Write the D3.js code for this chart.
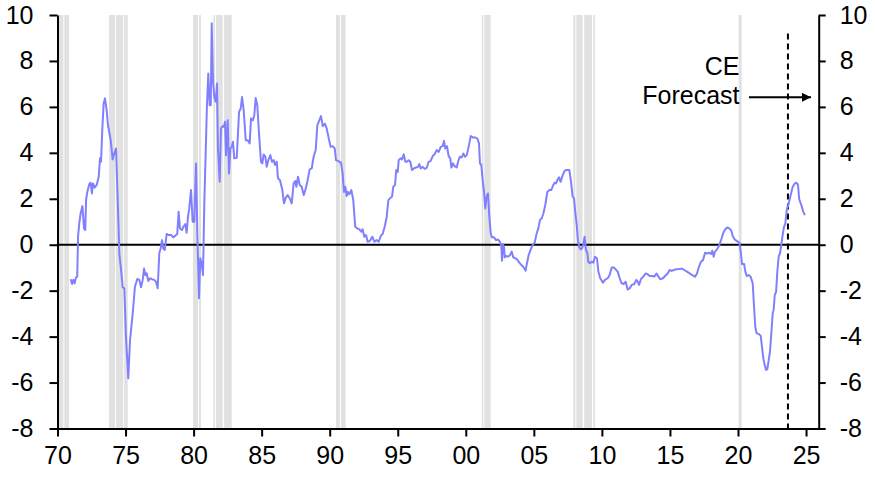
<!DOCTYPE html>
<html>
<head>
<meta charset="utf-8">
<script src="https://cdn.jsdelivr.net/npm/d3@7"></script>
<style>
  body { margin: 0; background: #fff; }
  svg text { font-family: "Liberation Sans", Arial, sans-serif; fill: #000; }
</style>
</head>
<body>
<script>
// series: year (decimal) and value
var dates = [
1970.97,1971.07,1971.16,1971.26,1971.36,1971.45,1971.51,1971.6,1971.7,1971.83,1971.95,1972.04,1972.1,1972.19,1972.34,1972.44,1972.53,1972.61,1972.73,1972.88,
1973.03,1973.12,1973.2,1973.29,1973.39,1973.49,1973.61,1973.71,1973.91,1974.05,1974.17,1974.3,1974.4,1974.5,1974.54,1974.67,1974.79,1974.91,1975.03,1975.2,
1975.33,1975.53,1975.69,1975.86,1976.01,1976.14,1976.26,1976.36,1976.45,1976.55,1976.67,1976.8,1976.94,1977.11,1977.24,1977.36,1977.48,1977.58,1977.68,1977.77,
1977.88,1978.02,1978.17,1978.36,1978.51,1978.71,1978.8,1978.9,1979.0,1979.15,1979.24,1979.39,1979.49,1979.59,1979.68,1979.81,1979.93,1980.05,1980.18,1980.27,
1980.4,1980.49,1980.59,1980.69,1980.79,1980.89,1980.98,1981.08,1981.18,1981.26,1981.33,1981.43,1981.52,1981.62,1981.72,1981.79,1981.92,1982.01,1982.14,1982.23,
1982.31,1982.38,1982.51,1982.6,1982.7,1982.8,1982.89,1982.99,1983.17,1983.34,1983.46,1983.56,1983.68,1983.83,1983.97,1984.12,1984.22,1984.36,1984.46,1984.56,
1984.68,1984.8,1984.95,1985.05,1985.15,1985.27,1985.37,1985.49,1985.64,1985.76,1985.89,1985.98,1986.11,1986.2,1986.35,1986.52,1986.64,1986.77,1986.91,1987.06,
1987.21,1987.35,1987.47,1987.55,1987.67,1987.8,1987.94,1988.09,1988.24,1988.38,1988.53,1988.68,1988.82,1988.97,1989.09,1989.24,1989.36,
1989.49,1989.65,1989.78,1989.93,1990.07,1990.22,1990.37,1990.46,1990.63,1990.83,1990.95,1991.05,1991.15,1991.25,1991.34,1991.44,1991.59,1991.73,1991.88,1992.03,
1992.18,1992.32,1992.42,1992.54,1992.67,1992.79,1992.96,1993.13,1993.28,1993.45,1993.6,1993.75,1993.89,1994.04,1994.19,1994.31,1994.43,1994.58,1994.67,1994.8,
1994.89,1995.0,1995.07,1995.22,1995.31,1995.44,1995.56,1995.66,1995.8,1995.92,1996.05,1996.19,1996.34,1996.49,1996.58,1996.69,1996.83,1996.98,1997.13,1997.27,
1997.42,1997.57,1997.71,1997.86,1998.01,1998.16,1998.3,1998.4,1998.49,1998.62,1998.74,1998.86,1998.94,1999.06,1999.18,1999.33,1999.45,
1999.57,1999.7,1999.82,1999.94,2000.07,2000.21,2000.36,2000.51,2000.68,2000.85,2000.97,2001.04,2001.14,2001.24,2001.34,2001.43,2001.53,2001.63,2001.73,2001.83,
2001.92,2002.07,2002.22,2002.36,2002.51,2002.61,2002.66,2002.73,2002.81,2002.86,2002.95,2003.1,2003.25,2003.37,2003.49,2003.64,2003.78,2003.93,2004.08,2004.22,
2004.4,2004.47,2004.62,2004.77,2004.91,2005.06,2005.21,2005.33,2005.45,2005.58,2005.7,2005.84,2005.99,2006.14,2006.28,2006.43,2006.53,2006.63,2006.75,2006.85,
2006.97,2007.12,2007.27,2007.41,2007.61,2007.73,2007.85,2007.95,2008.05,2008.15,2008.24,2008.34,2008.44,2008.54,2008.63,2008.73,2008.83,2008.93,2009.0,2009.12,
2009.25,2009.37,
2009.49,2009.64,2009.74,2009.88,2010.08,2010.23,2010.43,2010.57,2010.72,2010.87,2011.01,2011.16,2011.31,2011.45,2011.6,2011.75,2011.89,2012.04,2012.19,2012.38,
2012.53,2012.63,2012.73,2012.87,2013.04,2013.22,2013.37,2013.53,2013.7,2013.85,2014.02,2014.15,2014.29,2014.49,2014.64,2014.83,2014.98,2015.13,2015.28,2015.47,
2015.66,2015.86,2016.05,2016.25,2016.45,2016.64,2016.84,2016.99,2017.13,2017.28,2017.43,2017.58,2017.72,2017.87,2018.02,2018.11,2018.21,2018.31,2018.46,2018.6,
2018.8,2018.92,2019.07,2019.21,2019.36,2019.51,2019.61,2019.76,2019.9,2020.1,2020.2,2020.3,2020.45,2020.54,2020.64,2020.79,2020.93,2021.08,2021.18,2021.27,
2021.37,2021.52,2021.67,2021.76,2021.86,2021.96,2022.06,2022.15,2022.26,2022.35,2022.45,2022.55,2022.62,2022.7,2022.8,2022.89,2022.99,2023.09,2023.19,2023.28,
2023.38,2023.48,2023.58,2023.73,2023.87,2024.02,2024.17,2024.31,2024.41,2024.5,2024.65,2024.8,2024.92
];
var values = [
-1.50,-1.71,-1.53,-1.68,-1.42,-1.39,0.35,0.93,1.37,1.68,0.71,0.64,1.94,2.30,2.64,2.70,2.23,2.67,2.49,2.60,
2.96,3.76,3.61,4.99,6.15,6.37,5.86,5.20,4.55,3.71,3.97,4.19,2.38,0.50,-0.37,-1.10,-1.85,-1.90,-4.00,-5.81,
-4.14,-2.98,-1.83,-1.49,-1.53,-1.85,-1.53,-1.03,-1.32,-1.24,-1.58,-1.46,-1.50,-1.53,-1.61,-1.90,-0.37,-0.16,0.20,-0.16,
-0.23,0.47,0.42,0.42,0.32,0.42,0.47,1.43,0.71,0.64,0.78,0.90,0.52,1.22,1.58,2.38,1.00,1.00,3.54,0.64,
-2.33,-0.59,-0.81,-1.32,1.87,4.04,6.07,7.45,6.07,6.07,9.64,7.09,6.43,6.22,7.02,4.19,2.74,5.06,5.16,5.13,
5.35,3.90,5.42,3.10,4.19,4.26,4.48,3.76,3.78,5.78,5.93,6.43,5.86,4.55,4.55,4.41,5.50,5.42,5.64,6.39,
6.07,4.91,3.61,3.54,3.93,3.83,3.39,3.68,3.90,3.61,3.68,3.47,3.61,2.89,2.81,2.38,1.80,2.04,2.16,2.02,
1.80,2.67,2.77,2.52,2.96,2.60,2.52,2.16,2.45,2.81,3.28,3.32,3.83,4.12,5.20,5.42,5.60,
5.16,5.27,5.06,4.63,4.26,4.29,4.19,3.68,3.64,3.57,3.10,2.30,2.52,2.12,2.30,2.20,2.38,1.94,0.78,0.71,
0.67,0.57,0.67,0.35,0.42,0.13,0.17,0.35,0.13,0.20,0.13,0.38,0.47,0.78,1.22,1.94,2.02,2.09,2.52,2.60,
3.25,3.17,3.68,3.76,3.71,3.94,3.61,3.61,3.68,3.61,3.25,3.32,3.36,3.39,3.51,3.32,3.39,3.30,3.35,3.61,
3.65,3.86,3.94,4.12,4.04,4.26,4.29,4.52,4.19,4.29,3.86,3.76,3.36,3.54,3.42,3.36,3.65,
3.83,3.80,3.97,3.83,3.90,4.26,4.73,4.67,4.67,4.62,4.41,3.54,3.47,2.81,2.30,1.58,2.09,2.23,1.22,0.50,
0.32,0.32,0.20,0.23,0.13,-0.06,-0.70,0.03,-0.09,-0.55,-0.49,-0.52,-0.45,-0.30,-0.55,-0.59,-0.64,-0.78,-0.88,-0.96,
-1.13,-0.88,-0.45,-0.20,-0.01,0.09,0.50,0.71,1.07,1.15,1.36,1.73,2.30,2.38,2.38,2.60,2.70,2.67,2.84,2.93,
2.74,3.03,3.22,3.25,3.25,2.74,2.09,2.02,1.36,0.86,0.20,-0.12,-0.20,-0.16,-0.01,0.35,-0.23,-0.35,-0.74,-0.81,
-0.74,-0.78,
-0.52,-0.59,-1.17,-1.46,-1.65,-1.53,-1.46,-1.32,-0.99,-0.99,-1.07,-1.17,-1.46,-1.68,-1.71,-1.61,-1.95,-1.90,-1.75,-1.71,
-1.53,-1.61,-1.75,-1.50,-1.39,-1.25,-1.29,-1.36,-1.36,-1.39,-1.25,-1.39,-1.50,-1.46,-1.36,-1.25,-1.10,-1.14,-1.10,-1.07,
-1.06,-1.04,-1.10,-1.17,-1.25,-1.32,-1.39,-1.25,-0.96,-0.74,-0.67,-0.35,-0.38,-0.35,-0.40,-0.26,-0.52,-0.30,-0.20,-0.06,
0.28,0.52,0.67,0.75,0.71,0.61,0.38,0.23,0.17,0.09,-0.30,-0.84,-0.84,-1.17,-1.36,-1.32,-1.39,-1.68,-2.70,-3.57,
-3.86,-3.88,-3.97,-4.43,-4.94,-5.23,-5.45,-5.42,-5.01,-4.65,-3.86,-2.98,-2.84,-2.19,-2.05,-1.17,-0.52,-0.37,0.03,0.42,
0.78,0.93,1.51,1.80,2.16,2.52,2.67,2.70,2.60,1.97,1.73,1.43,1.29
];

// recession shading (start, end), as drawn in separate strips
var recStart = [1970.0, 1970.5, 1973.78, 1974.29, 1974.9, 1979.96, 1980.4, 1981.45, 1981.65, 1982.24,
                1990.46, 1990.83, 2001.17, 2001.36, 2007.9, 2008.12, 2008.7, 2009.37, 2020.05];
var recEnd   = [1970.43, 1970.85, 1974.22, 1974.83, 1975.16, 1980.33, 1980.54, 1981.57, 1982.14, 1982.8,
                1990.75, 1991.17, 2001.29, 2001.83, 2008.05, 2008.58, 2009.27, 2009.5, 2020.27];

var xTicks = [1970, 1975, 1980, 1985, 1990, 1995, 2000, 2005, 2010, 2015, 2020, 2025];
var yTicks = [-8, -6, -4, -2, 0, 2, 4, 6, 8, 10];
var forecastStart = 2023.67;

var width = 875, height = 479;
var svg = d3.select("body").append("svg")
    .attr("width", width)
    .attr("height", height);

var x = d3.scaleLinear().domain([1970, 2025.93]).range([57.5, 818.7]);
var y = d3.scaleLinear().domain([-8, 10]).range([428.5, 15]);

// recession bands
svg.selectAll(".rec")
  .data(recStart)
  .enter()
  .append("rect")
  .attr("class", "rec")
  .attr("x", function(d) { return x(d); })
  .attr("y", y(10))
  .attr("width", function(d, i) { return x(recEnd[i]) - x(d); })
  .attr("height", y(-8) - y(10))
  .attr("fill", "#e1e1e1");

// zero line
svg.append("line")
  .attr("x1", x(1970)).attr("x2", x(2025.93))
  .attr("y1", y(0)).attr("y2", y(0))
  .attr("stroke", "#000")
  .attr("stroke-width", 2);

// forecast divider
svg.append("line")
  .attr("x1", x(forecastStart)).attr("x2", x(forecastStart))
  .attr("y1", y(9.2)).attr("y2", y(-8))
  .attr("stroke", "#000")
  .attr("stroke-width", 2)
  .attr("stroke-dasharray", "6,4");

var line = d3.line()
  .x(function(d) { return x(d); })
  .y(function(d, i) { return y(values[i]); });

svg.append("path")
  .datum(dates)
  .attr("d", line)
  .attr("fill", "none")
  .attr("stroke", "#8080ff")
  .attr("stroke-width", 2)
  .attr("stroke-linejoin", "round");

// axes (plain hyphen for negatives, like the original)
var plain = function(d) { return String(d); };
var yLeft = d3.axisLeft(y).tickValues(yTicks).tickSize(8).tickSizeOuter(0).tickPadding(16).tickFormat(plain);
var yRight = d3.axisRight(y).tickValues(yTicks).tickSize(7).tickSizeOuter(0).tickPadding(14).tickFormat(plain);
var xAxis = d3.axisBottom(x).tickValues(xTicks).tickSize(8).tickSizeOuter(0).tickPadding(10)
  .tickFormat(function(d) { return d3.format("02d")(d % 100); });

svg.append("g")
  .attr("transform", "translate(" + x(1970) + ",0)")
  .call(yLeft);
svg.append("g")
  .attr("transform", "translate(" + x(2025.93) + ",0)")
  .call(yRight);
svg.append("g")
  .attr("transform", "translate(0," + y(-8) + ")")
  .call(xAxis);

svg.selectAll(".domain").attr("stroke", "#000").attr("stroke-width", 2);
svg.selectAll(".tick line").attr("stroke", "#000").attr("stroke-width", 2);
svg.selectAll(".tick text").attr("font-size", "25px").attr("fill", "#000");

// annotation
var note = svg.append("text")
  .attr("text-anchor", "end")
  .attr("font-size", "25px");
note.append("tspan").attr("x", 739.5).attr("y", 75.3).text("CE");
note.append("tspan").attr("x", 739.5).attr("y", 104).text("Forecast");

svg.append("defs").append("marker")
  .attr("id", "arrow")
  .attr("viewBox", "0 0 10 10")
  .attr("refX", 10).attr("refY", 5)
  .attr("markerWidth", 4.5).attr("markerHeight", 4.5)
  .attr("orient", "auto")
  .append("path")
  .attr("d", "M0,0L10,5L0,10Z")
  .attr("fill", "#000");

svg.append("line")
  .attr("x1", 749).attr("x2", 811)
  .attr("y1", 97.3).attr("y2", 97.3)
  .attr("stroke", "#000")
  .attr("stroke-width", 2)
  .attr("marker-end", "url(#arrow)");
</script>
</body>
</html>
